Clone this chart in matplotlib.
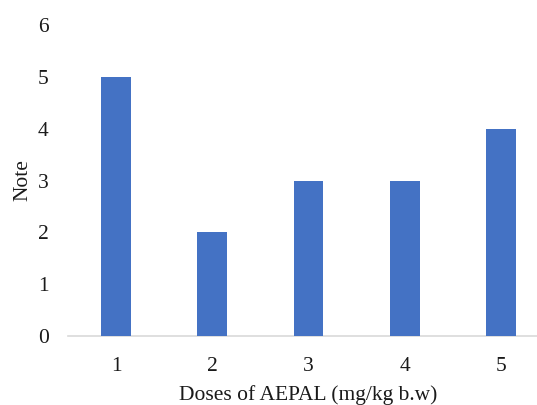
import matplotlib
matplotlib.use("Agg")
import matplotlib.pyplot as plt

categories = ["1", "2", "3", "4", "5"]
values = [5, 2, 3, 3, 4]
y_ticks = [0, 1, 2, 3, 4, 5, 6]

plt.rcParams['font.family'] = ['Liberation Serif', 'DejaVu Serif']

W, H = 537, 405
fig = plt.figure(figsize=(W/100, H/100), dpi=100)
left, right = 68, 549
bottom, top = 336, 25
ax = fig.add_axes([left/W, 1 - bottom/H, (right-left)/W, (bottom-top)/H])

x = list(range(len(categories)))
ax.bar(x, values, width=0.31, color="#4472C4", zorder=3)
ax.set_xlim(-0.5, len(categories) - 0.5)
ax.set_ylim(0, 6)
ax.set_yticks(y_ticks)
ax.set_xticks(x)
ax.set_xticklabels(categories)

fs = 15.5
for s in ["left", "right", "top"]:
    ax.spines[s].set_visible(False)
ax.spines["bottom"].set_color("#D9D9D9")
ax.spines["bottom"].set_linewidth(1.2)
ax.tick_params(axis="both", length=0, labelsize=fs, colors="#1a1a1a")
ax.tick_params(axis="y", pad=14)
ax.tick_params(axis="x", pad=15)

ax.set_xlabel("Doses of AEPAL (mg/kg b.w)", fontsize=fs, color="#1a1a1a", labelpad=7)
ax.set_ylabel("Note", fontsize=fs, color="#1a1a1a", labelpad=4)

fig.savefig("out.png", dpi=100)
